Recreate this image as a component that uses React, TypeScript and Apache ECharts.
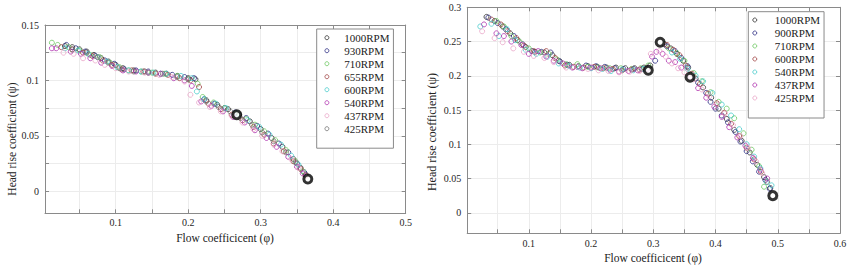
import React, { useEffect, useRef } from "react";
import * as echarts from "echarts";

const FONT = "'Liberation Serif', 'Times New Roman', serif";

// ---------- Left chart ----------
const leftNames = ["1000RPM", "930RPM", "710RPM", "655RPM", "600RPM", "540RPM", "437RPM", "425RPM"];
const leftColors = ["#303030", "#2c2c82", "#6cc860", "#a04444", "#48cccc", "#b034b0", "#eaa6c8", "#747474"];

const left1000 = [[0.030,0.131],[0.040,0.130],[0.050,0.128],[0.060,0.126],[0.070,0.123],[0.080,0.120],[0.090,0.117],[0.100,0.114],[0.110,0.111],[0.125,0.109],[0.140,0.108],[0.155,0.107],[0.170,0.106],[0.185,0.104],[0.200,0.102],[0.210,0.101],[0.225,0.082],[0.240,0.078],[0.255,0.074],[0.270,0.069],[0.285,0.063],[0.300,0.056],[0.315,0.048],[0.330,0.040],[0.345,0.029],[0.355,0.021],[0.362,0.015]];
const left930 = [[0.032,0.132],[0.045,0.129],[0.058,0.126],[0.072,0.122],[0.085,0.118],[0.098,0.115],[0.112,0.110],[0.128,0.109],[0.145,0.108],[0.162,0.106],[0.178,0.105],[0.195,0.103],[0.208,0.102],[0.222,0.083],[0.236,0.079],[0.250,0.075],[0.265,0.071],[0.280,0.066],[0.295,0.059],[0.310,0.052],[0.325,0.043],[0.338,0.035],[0.350,0.025],[0.360,0.017]];
const left710 = [[0.012,0.134],[0.020,0.132],[0.035,0.130],[0.050,0.127],[0.065,0.123],[0.078,0.121],[0.092,0.116],[0.105,0.112],[0.118,0.109],[0.135,0.108],[0.150,0.107],[0.168,0.106],[0.185,0.104],[0.200,0.101],[0.213,0.097],[0.220,0.085],[0.235,0.080],[0.250,0.075],[0.265,0.070],[0.280,0.065],[0.292,0.060],[0.305,0.054],[0.320,0.046],[0.335,0.037],[0.348,0.027],[0.358,0.018]];
const left655 = [[0.025,0.130],[0.040,0.128],[0.055,0.125],[0.068,0.122],[0.082,0.118],[0.095,0.114],[0.108,0.110],[0.122,0.109],[0.138,0.108],[0.155,0.106],[0.172,0.105],[0.188,0.102],[0.203,0.100],[0.215,0.094],[0.228,0.079],[0.245,0.074],[0.260,0.069],[0.275,0.064],[0.290,0.058],[0.305,0.051],[0.318,0.043],[0.332,0.036],[0.345,0.027],[0.355,0.020],[0.362,0.014]];
const left600 = [[0.030,0.129],[0.048,0.127],[0.062,0.124],[0.075,0.121],[0.088,0.117],[0.102,0.112],[0.118,0.109],[0.135,0.108],[0.152,0.107],[0.170,0.106],[0.190,0.104],[0.205,0.102],[0.212,0.090],[0.222,0.083],[0.238,0.079],[0.252,0.075],[0.268,0.070],[0.282,0.064],[0.298,0.058],[0.312,0.051],[0.328,0.042],[0.342,0.032],[0.352,0.024]];
const left540 = [[0.012,0.129],[0.018,0.129],[0.038,0.126],[0.052,0.124],[0.065,0.120],[0.080,0.116],[0.095,0.113],[0.110,0.109],[0.128,0.108],[0.145,0.107],[0.162,0.106],[0.180,0.102],[0.195,0.100],[0.205,0.095],[0.218,0.081],[0.232,0.077],[0.248,0.072],[0.262,0.067],[0.278,0.062],[0.292,0.055],[0.308,0.048],[0.322,0.040],[0.338,0.031],[0.350,0.022],[0.358,0.016]];
const left437 = [[0.028,0.125],[0.042,0.124],[0.055,0.120],[0.072,0.118],[0.085,0.114],[0.100,0.111],[0.118,0.108],[0.140,0.107],[0.160,0.105],[0.178,0.103],[0.195,0.099],[0.203,0.087],[0.215,0.080],[0.230,0.076],[0.245,0.072],[0.260,0.068],[0.275,0.062],[0.290,0.056],[0.302,0.050],[0.318,0.042],[0.330,0.036],[0.342,0.029],[0.352,0.021]];
const left425 = [[0.040,0.128],[0.060,0.125],[0.075,0.121],[0.090,0.116],[0.105,0.111],[0.125,0.108],[0.145,0.107],[0.165,0.106],[0.185,0.103],[0.200,0.101],[0.225,0.081],[0.242,0.076],[0.258,0.072],[0.272,0.066],[0.288,0.060],[0.302,0.053],[0.318,0.045],[0.335,0.035],[0.348,0.026]];
const leftSeriesData = [left1000, left930, left710, left655, left600, left540, left437, left425];
const leftMarked = [[0.267,0.069],[0.365,0.011]];

const leftXTicks = [0.05,0.1,0.15,0.2,0.25,0.3,0.35,0.4,0.45,0.5];
const leftXLabels = [0.1,0.2,0.3,0.4,0.5];
const leftYTicks = [0,0.025,0.05,0.075,0.1,0.125,0.15];
const leftYLabels = [0,0.05,0.1,0.15];

// ---------- Right chart ----------
const rightNames = ["1000RPM", "900RPM", "710RPM", "600RPM", "540RPM", "437RPM", "425RPM"];
const rightColors = ["#303030", "#2c2c82", "#6cc860", "#a04444", "#48cccc", "#b034b0", "#eaa6c8"];

const right1000 = [[0.032,0.286],[0.045,0.280],[0.058,0.272],[0.070,0.262],[0.082,0.252],[0.095,0.242],[0.110,0.235],[0.125,0.234],[0.138,0.230],[0.150,0.221],[0.165,0.216],[0.180,0.214],[0.195,0.214],[0.210,0.213],[0.225,0.212],[0.240,0.212],[0.255,0.211],[0.270,0.211],[0.285,0.212],[0.295,0.215],[0.318,0.246],[0.328,0.240],[0.338,0.232],[0.348,0.222],[0.356,0.212],[0.368,0.196],[0.380,0.183],[0.393,0.168],[0.405,0.152],[0.418,0.137],[0.430,0.121],[0.442,0.105],[0.455,0.088],[0.467,0.070],[0.478,0.052],[0.488,0.036]];
const right900 = [[0.035,0.285],[0.050,0.277],[0.063,0.268],[0.076,0.258],[0.090,0.246],[0.105,0.236],[0.120,0.235],[0.135,0.234],[0.148,0.222],[0.162,0.216],[0.178,0.213],[0.192,0.215],[0.208,0.214],[0.222,0.213],[0.238,0.211],[0.252,0.210],[0.268,0.210],[0.282,0.210],[0.303,0.222],[0.322,0.243],[0.335,0.236],[0.345,0.226],[0.355,0.214],[0.372,0.190],[0.385,0.175],[0.392,0.162],[0.400,0.152],[0.410,0.142],[0.420,0.132],[0.432,0.118],[0.440,0.104],[0.450,0.090],[0.460,0.075],[0.470,0.060],[0.480,0.048],[0.487,0.035]];
const right710 = [[0.048,0.280],[0.060,0.272],[0.072,0.258],[0.085,0.250],[0.100,0.240],[0.118,0.234],[0.132,0.232],[0.145,0.224],[0.160,0.217],[0.178,0.217],[0.195,0.213],[0.212,0.212],[0.230,0.211],[0.248,0.211],[0.265,0.210],[0.280,0.211],[0.292,0.215],[0.325,0.240],[0.338,0.233],[0.350,0.222],[0.365,0.204],[0.378,0.192],[0.392,0.176],[0.405,0.162],[0.418,0.152],[0.430,0.138],[0.445,0.116],[0.458,0.092],[0.470,0.068],[0.478,0.038]];
const right600 = [[0.040,0.282],[0.055,0.275],[0.066,0.265],[0.080,0.255],[0.092,0.244],[0.108,0.236],[0.128,0.236],[0.142,0.226],[0.158,0.215],[0.172,0.213],[0.188,0.212],[0.205,0.213],[0.220,0.211],[0.235,0.210],[0.250,0.208],[0.265,0.209],[0.278,0.209],[0.322,0.245],[0.332,0.238],[0.342,0.230],[0.352,0.215],[0.362,0.203],[0.375,0.188],[0.388,0.174],[0.402,0.160],[0.414,0.146],[0.425,0.130],[0.438,0.112],[0.450,0.095],[0.462,0.078],[0.473,0.060],[0.483,0.045]];
const right540 = [[0.022,0.272],[0.040,0.276],[0.052,0.258],[0.065,0.268],[0.078,0.252],[0.095,0.238],[0.112,0.232],[0.130,0.228],[0.148,0.218],[0.165,0.214],[0.182,0.212],[0.200,0.211],[0.218,0.210],[0.232,0.207],[0.250,0.209],[0.268,0.208],[0.285,0.210],[0.330,0.234],[0.343,0.225],[0.355,0.210],[0.368,0.200],[0.380,0.192],[0.395,0.175],[0.410,0.158],[0.425,0.142],[0.438,0.122],[0.450,0.100],[0.462,0.082],[0.472,0.065],[0.482,0.045],[0.490,0.040]];
const right437 = [[0.028,0.275],[0.048,0.262],[0.060,0.258],[0.072,0.250],[0.088,0.245],[0.100,0.232],[0.115,0.236],[0.128,0.228],[0.140,0.222],[0.155,0.218],[0.170,0.212],[0.186,0.211],[0.200,0.212],[0.215,0.211],[0.230,0.209],[0.245,0.206],[0.260,0.207],[0.275,0.208],[0.290,0.210],[0.298,0.228],[0.305,0.235],[0.315,0.232],[0.325,0.222],[0.335,0.220],[0.345,0.212],[0.360,0.198],[0.372,0.182],[0.385,0.168],[0.398,0.155],[0.410,0.140],[0.422,0.125],[0.435,0.110],[0.448,0.098],[0.460,0.080],[0.472,0.063],[0.483,0.050]];
const right425 = [[0.025,0.265],[0.045,0.255],[0.058,0.249],[0.075,0.240],[0.092,0.235],[0.108,0.229],[0.125,0.226],[0.140,0.220],[0.160,0.212],[0.178,0.213],[0.195,0.210],[0.212,0.208],[0.228,0.207],[0.245,0.205],[0.262,0.206],[0.278,0.207],[0.296,0.232],[0.310,0.236],[0.320,0.228],[0.330,0.218],[0.340,0.211],[0.350,0.205],[0.365,0.195],[0.378,0.180],[0.390,0.170],[0.402,0.158],[0.415,0.145],[0.428,0.128],[0.440,0.112],[0.452,0.095],[0.465,0.075],[0.475,0.058]];
const rightSeriesData = [right1000, right900, right710, right600, right540, right437, right425];
const rightMarked = [[0.292,0.208],[0.311,0.249],[0.359,0.198],[0.492,0.025]];

const rightXTicks = [0.05,0.1,0.15,0.2,0.25,0.3,0.35,0.4,0.45,0.5,0.55,0.6];
const rightXLabels = [0.1,0.2,0.3,0.4,0.5,0.6];
const rightYTicks = [0,0.05,0.1,0.15,0.2,0.25,0.3];
const rightYLabels = [0,0.05,0.1,0.15,0.2,0.25,0.3];

const AXIS_COLOR = "#8a8a8a";
const GRID_COLOR = "#ececec";

function makeAxis(gridIndex: number, position: string, min: number, max: number, ticks: number[], labels: number[] | null, margin: number) {
  return {
    type: "value",
    gridIndex,
    position,
    min,
    max,
    axisLine: { show: true, onZero: false, lineStyle: { color: AXIS_COLOR, width: 1 } },
    axisTick: { show: true, inside: true, length: 4, customValues: ticks, lineStyle: { color: AXIS_COLOR } },
    axisLabel: labels
      ? { show: true, customValues: labels, margin, color: "#262626", fontFamily: FONT, fontSize: 10, formatter: (v: number) => String(v) }
      : { show: false },
    splitLine: labels ? { show: true, lineStyle: { color: GRID_COLOR, width: 1 } } : { show: false },
  };
}

export default function App() {
  const ref = useRef<HTMLDivElement>(null);
  useEffect(() => {
    if (!ref.current) return;
    const chart = echarts.init(ref.current, null, { renderer: "svg" });

    const series: any[] = [];
    leftSeriesData.forEach((d, i) => {
      series.push({
        type: "scatter", name: "L|" + leftNames[i], xAxisIndex: 0, yAxisIndex: 0, data: d,
        symbol: "circle", symbolSize: 5,
        itemStyle: { color: "rgba(255,255,255,0)", borderColor: leftColors[i], borderWidth: 1 },
      });
    });
    series.push({
      type: "scatter", name: "Lmark", xAxisIndex: 0, yAxisIndex: 0, data: leftMarked, z: 5,
      symbol: "circle", symbolSize: 8, itemStyle: { color: "#ffffff", borderColor: "#000000", borderWidth: 3 },
    });
    rightSeriesData.forEach((d, i) => {
      series.push({
        type: "scatter", name: "R|" + rightNames[i], xAxisIndex: 2, yAxisIndex: 2, data: d,
        symbol: "circle", symbolSize: 5,
        itemStyle: { color: "rgba(255,255,255,0)", borderColor: rightColors[i], borderWidth: 1 },
      });
    });
    series.push({
      type: "scatter", name: "Rmark", xAxisIndex: 2, yAxisIndex: 2, data: rightMarked, z: 5,
      symbol: "circle", symbolSize: 8, itemStyle: { color: "#ffffff", borderColor: "#000000", borderWidth: 3 },
    });

    const legendText = { fontFamily: FONT, fontSize: 11, color: "#222222", lineHeight: 13 };
    const legendItemStyle = { borderWidth: 1 };

    chart.setOption({
      animation: false,
      backgroundColor: "#ffffff",
      grid: [
        { left: 45, right: 450.3, top: 25, height: 188.3, show: false },
        { left: 467.2, right: 16, top: 7.3, height: 226, show: false },
      ],
      xAxis: [
        makeAxis(0, "bottom", 0.0025, 0.5, leftXTicks, leftXLabels, 4),
        makeAxis(0, "top", 0.0025, 0.5, leftXTicks, null, 4),
        makeAxis(1, "bottom", 0.001, 0.6, rightXTicks, rightXLabels, 5),
        makeAxis(1, "top", 0.001, 0.6, rightXTicks, null, 5),
      ],
      yAxis: [
        makeAxis(0, "left", -0.02, 0.15, leftYTicks, leftYLabels, 6),
        makeAxis(0, "right", -0.02, 0.15, leftYTicks, null, 6),
        makeAxis(1, "left", -0.03, 0.3, rightYTicks, rightYLabels, 6),
        makeAxis(1, "right", -0.03, 0.3, rightYTicks, null, 6),
      ],
      legend: [
        {
          data: leftNames.map((n) => "L|" + n),
          formatter: (n: string) => n.slice(2),
          orient: "vertical", left: 316.7, top: 29,
          padding: [2.2, 4, 13, 7.7], itemWidth: 24.6, itemHeight: 4, itemGap: 0,
          itemStyle: legendItemStyle,
          textStyle: legendText, borderColor: AXIS_COLOR, borderWidth: 1,
          backgroundColor: "#ffffff", selectedMode: false,
        },
        {
          data: rightNames.map((n) => "R|" + n),
          formatter: (n: string) => n.slice(2),
          orient: "vertical", left: 748.3, top: 11.7,
          padding: [1.8, 4, 13.5, 4], itemWidth: 30, itemHeight: 4, itemGap: 0,
          itemStyle: legendItemStyle,
          textStyle: legendText, borderColor: AXIS_COLOR, borderWidth: 1,
          backgroundColor: "#ffffff", selectedMode: false,
        },
      ],
      graphic: [
        { type: "text", x: 12, y: 139, rotation: Math.PI / 2, style: { text: "Head rise coefficient (ψ)", align: "center", verticalAlign: "middle", font: "11.5px " + FONT, fill: "#222222" } },
        { type: "text", x: 225, y: 237.7, style: { text: "Flow coefficicent (φ)", align: "center", verticalAlign: "middle", font: "11.5px " + FONT, fill: "#222222" } },
        { type: "text", x: 432, y: 132, rotation: Math.PI / 2, style: { text: "Head rise coefficient (ψ)", align: "center", verticalAlign: "middle", font: "12px " + FONT, fill: "#222222" } },
        { type: "text", x: 653, y: 257.7, style: { text: "Flow coefficicent (φ)", align: "center", verticalAlign: "middle", font: "11.5px " + FONT, fill: "#222222" } },
      ],
      series,
    });
    return () => chart.dispose();
  }, []);
  return <div ref={ref} style={{ position: "absolute", left: 0, top: 0, width: 856, height: 274 }} />;
}
